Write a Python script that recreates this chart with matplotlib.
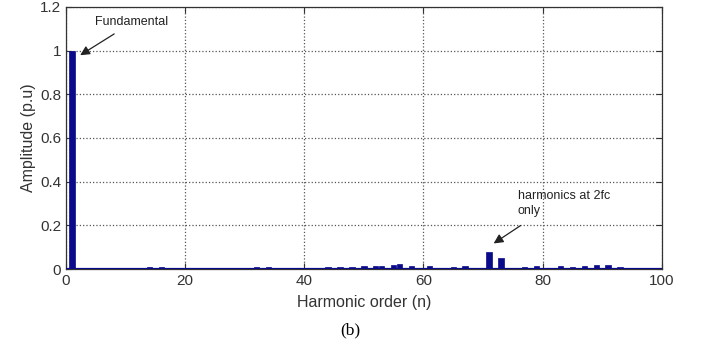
import numpy as np
import matplotlib
matplotlib.use('Agg')
import matplotlib.pyplot as plt

plt.rcParams['font.family'] = ['Liberation Sans', 'DejaVu Sans']

# harmonic spectrum (per unit of fundamental)
orders = [1, 14, 16, 20, 28, 32, 34, 38, 40, 44, 46, 48, 50, 52, 53, 55, 56, 58,
          61, 65, 67, 71, 73, 77, 79, 83, 85, 87, 89, 91, 93, 95, 97]
amplitudes = [1.0, 0.007, 0.007, 0.005, 0.006, 0.007, 0.007, 0.006, 0.006, 0.008,
              0.008, 0.01, 0.012, 0.015, 0.016, 0.02, 0.022, 0.016, 0.012, 0.01,
              0.012, 0.079, 0.049, 0.01, 0.014, 0.014, 0.01, 0.016, 0.02, 0.02,
              0.01, 0.006, 0.004]
xticks = [0, 20, 40, 60, 80, 100]
yticks = [0, 0.2, 0.4, 0.6, 0.8, 1.0, 1.2]
ytick_labels = ['0', '0.2', '0.4', '0.6', '0.8', '1', '1.2']

bar_color = '#0a0a8a'

fig = plt.figure(figsize=(7.01, 3.44), dpi=100)
ax = fig.add_axes([0.094, 0.218, 0.850, 0.762])

ax.bar(orders, amplitudes, width=0.9, color=bar_color, edgecolor=bar_color,
       linewidth=0.5, zorder=3)
ax.axhline(0, color=bar_color, linewidth=1.6, zorder=3)

ax.set_xlim(0, 100)
ax.set_ylim(0, 1.2)
ax.set_xticks(xticks)
ax.set_yticks(yticks)
ax.set_yticklabels(ytick_labels)
ax.tick_params(direction='in', top=True, right=True, labelsize=11,
               length=4, colors='#333333', labelcolor='#333333')
ax.grid(True, linestyle=':', color='#555555', linewidth=0.9)
for s in ax.spines.values():
    s.set_color('#333333')
    s.set_linewidth(0.9)

ax.set_xlabel('Harmonic order (n)', fontsize=11.5, color='#333333', labelpad=5)
ax.set_ylabel('Amplitude (p.u)', fontsize=11.5, color='#333333', labelpad=3)

arrow = dict(arrowstyle='-|>', color='#222222', lw=0.9, mutation_scale=14)

ax.text(4.9, 1.13, 'Fundamental', fontsize=9, color='#222222',
        ha='left', va='center')
ax.annotate('', xy=(2.0, 0.972), xytext=(8.5, 1.083), arrowprops=arrow)

ax.text(75.8, 0.30, 'harmonics at 2fc\nonly', fontsize=9, color='#222222',
        ha='left', va='center', linespacing=1.35)
ax.annotate('', xy=(71.4, 0.11), xytext=(76.7, 0.206), arrowprops=arrow)

fig.text(0.5, 0.04, '(b)', fontsize=12.5, ha='center', va='center',
         family='Liberation Serif')

fig.savefig('out.png', dpi=100)
